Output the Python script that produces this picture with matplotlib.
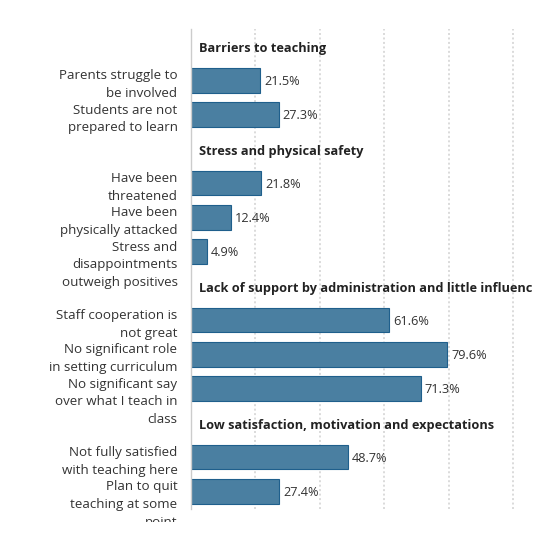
import matplotlib
matplotlib.use("Agg")
import matplotlib.pyplot as plt
from matplotlib.transforms import offset_copy, Bbox, TransformedBbox, blended_transform_factory

plt.rcParams['font.family'] = ['Open Sans', 'DejaVu Sans']

groups = [
    "Barriers to teaching",
    "Stress and physical safety",
    "Lack of support by administration and little influence",
    "Low satisfaction, motivation and expectations",
]
group_labels = [
    ["Parents struggle to\nbe involved", "Students are not\nprepared to learn"],
    ["Have been\nthreatened", "Have been\nphysically attacked",
     "Stress and\ndisappointments\noutweigh positives"],
    ["Staff cooperation is\nnot great", "No significant role\nin setting curriculum",
     "No significant say\nover what I teach in\nclass"],
    ["Not fully satisfied\nwith teaching here", "Plan to quit\nteaching at some\npoint"],
]
group_values = [
    [21.5, 27.3],
    [21.8, 12.4, 4.9],
    [61.6, 79.6, 71.3],
    [48.7, 27.4],
]
grid_ticks = [20, 40, 60, 80, 100]

W, H = 550, 557
fig = plt.figure(figsize=(W / 100, H / 100), dpi=100)
ax = fig.add_axes([191 / W, 1 - 508.5 / H, (532 - 191) / W, (508.5 - 29) / H])

bar_color = "#4a7fa1"
edge_color = "#1f5f8c"
fs = 9.2
fs_lab = 9.65
line_px = 17.8

rows = []
for g, labs, vals in zip(groups, group_labels, group_values):
    rows.append(("header", g, None))
    for l, v in zip(labs, vals):
        rows.append(("bar", l, v))

n = len(rows)
ax.set_xlim(0, 105.9)
ax.set_ylim(n - 0.5, -0.5)

for x in grid_ticks:
    ax.axvline(x, color="#dadada", lw=1.4, ls=(0, (1, 1.3)), zorder=0)

base_tr = blended_transform_factory(ax.transAxes, ax.transData)
clip = TransformedBbox(Bbox([[0, 35 / H], [1, 1]]), fig.transFigure)

for i, (kind, text, val) in enumerate(rows):
    if kind == "header":
        ax.text(2.4, i + 0.07, text, fontsize=fs, fontweight='bold',
                color="#222222", va='center', ha='left', clip_on=True)
    else:
        ax.barh(i, val, height=0.72, color=bar_color, edgecolor=edge_color,
                linewidth=0.8, zorder=2)
        ax.text(val + 1.2, i + 0.03, f"{val:.1f}%", fontsize=fs, color="#333333",
                va='center', ha='left')
        for j, line in enumerate(text.split("\n")):
            tr = offset_copy(base_tr, fig=fig, x=-13.5, y=1 - j * line_px, units='dots')
            t = ax.text(0, i, line, transform=tr, fontsize=fs_lab, color="#333333",
                        ha='right', va='baseline')
            t.set_clip_box(clip)
            t.set_clip_on(True)

for s in ["top", "right", "bottom"]:
    ax.spines[s].set_visible(False)
ax.spines["left"].set_color("#cccccc")
ax.spines["left"].set_linewidth(1.0)
ax.set_xticks([])
ax.set_yticks([])

fig.savefig("out.png", dpi=100)
